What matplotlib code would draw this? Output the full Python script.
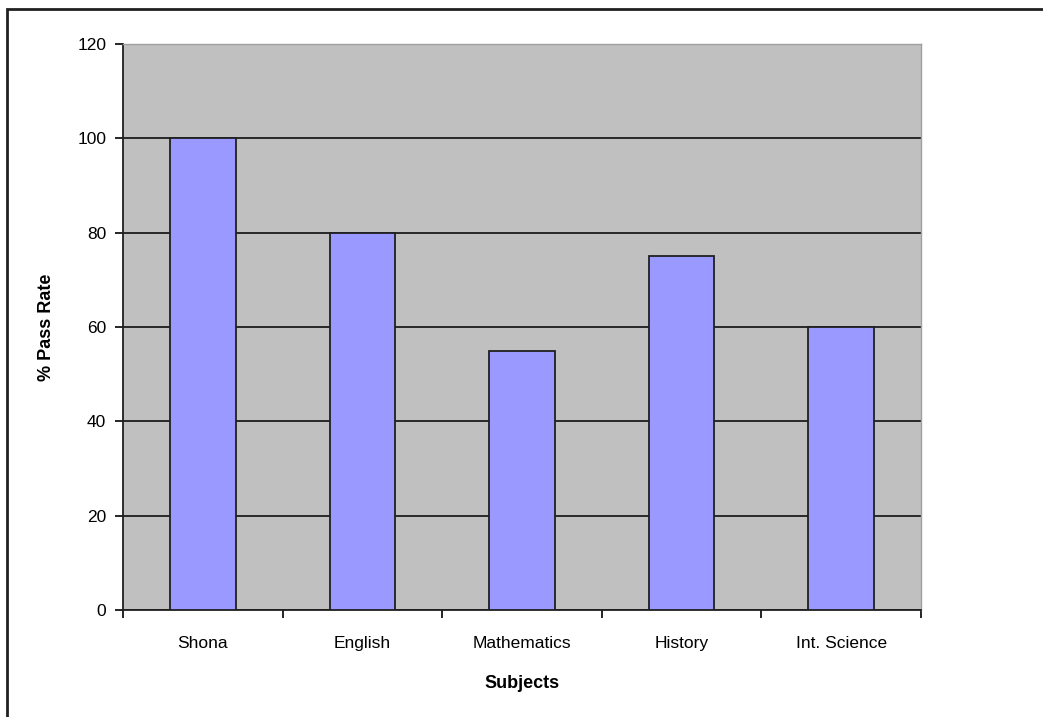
import matplotlib.pyplot as plt
from matplotlib.patches import Rectangle

subjects = ["Shona", "English", "Mathematics", "History", "Int. Science"]
pass_rate = [100, 80, 55, 75, 60]
y_ticks = [0, 20, 40, 60, 80, 100, 120]

plt.rcParams["font.family"] = ["Liberation Sans", "DejaVu Sans"]

fig = plt.figure(figsize=(10.43, 7.17), dpi=100)
# chart area border, cut off at right and bottom like the original
fig.patches.append(Rectangle((7 / 1043, -0.05), 1.1, 1.05 - 9 / 717,
                             transform=fig.transFigure, fill=False,
                             edgecolor="#202020", linewidth=2, zorder=0))

ax = fig.add_axes([123 / 1043, 1 - 610 / 717, 798 / 1043, 566 / 717])
ax.set_facecolor("#C0C0C0")

x = list(range(len(subjects)))
ax.bar(x, pass_rate, width=0.41, color="#9999FF", edgecolor="#202020",
       linewidth=1.3, zorder=3)

ax.set_xlim(-0.5, len(subjects) - 0.5)
ax.set_ylim(0, 120)
ax.set_yticks(y_ticks)
ax.yaxis.grid(True, color="black", linewidth=1.1, zorder=1)
ax.set_axisbelow(True)

ax.set_xticks(x)
ax.set_xticklabels(subjects, fontsize=12.5)
ax.tick_params(axis="x", length=0, pad=19)
ax.set_xticks([i - 0.5 for i in range(len(subjects) + 1)], minor=True)
ax.tick_params(axis="x", which="minor", length=6, width=1.2, direction="out")
ax.tick_params(axis="y", length=6, width=1.2, direction="out", labelsize=12.5, pad=6)

for side in ["top", "right"]:
    ax.spines[side].set_color("#A0A0A0")
    ax.spines[side].set_linewidth(1)
for side in ["left", "bottom"]:
    ax.spines[side].set_color("#202020")
    ax.spines[side].set_linewidth(1.3)

ax.set_xlabel("Subjects", fontsize=13, fontweight="bold", labelpad=17)
ax.set_ylabel("% Pass Rate", fontsize=13, fontweight="bold", labelpad=16)

fig.savefig("out.png", dpi=100)
